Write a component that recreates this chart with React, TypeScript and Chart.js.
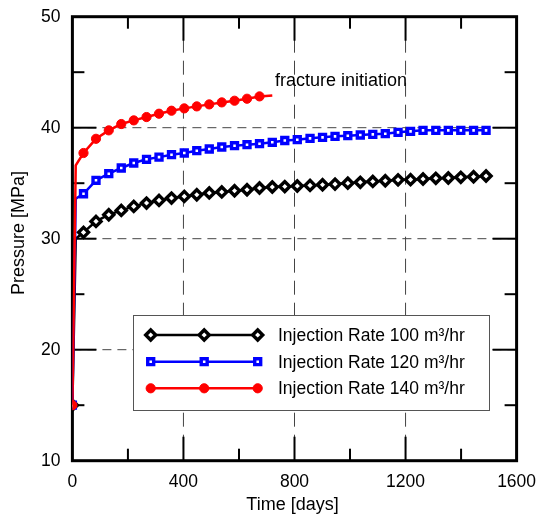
import React, { useEffect, useRef } from 'react';
import { Chart, registerables } from 'chart.js';
import { drawPoint } from 'chart.js/helpers';

Chart.register(...registerables);

// ---- data ----
const days = [0, 12, 40, 85, 131, 176, 221, 267, 312, 357, 403, 448, 493, 538, 584, 629, 674, 720, 765, 810, 856, 901, 946, 992, 1037, 1082, 1127, 1173, 1218, 1263, 1309, 1354, 1399, 1445, 1490];

const rate100 = [15, 30.0, 30.57, 31.56, 32.16, 32.55, 32.91, 33.21, 33.45, 33.66, 33.81, 33.96, 34.12, 34.21, 34.32, 34.41, 34.57, 34.66, 34.7, 34.75, 34.8, 34.86, 34.92, 35.0, 35.08, 35.16, 35.22, 35.3, 35.32, 35.38, 35.44, 35.47, 35.53, 35.58, 35.65];
const rate120 = [15, 33.6, 34.05, 35.26, 35.86, 36.37, 36.82, 37.15, 37.35, 37.57, 37.72, 37.93, 38.08, 38.26, 38.38, 38.47, 38.56, 38.68, 38.85, 38.92, 39.04, 39.13, 39.22, 39.28, 39.34, 39.4, 39.46, 39.58, 39.67, 39.76, 39.76, 39.76, 39.76, 39.76, 39.76];
const rate140 = [15, 36.6, 37.72, 39.0, 39.76, 40.33, 40.66, 40.96, 41.26, 41.53, 41.74, 41.92, 42.1, 42.28, 42.43, 42.61, 42.82, 42.9];

// indices drawn without a marker
const unmarked100 = [1];
const unmarked120 = [1];
const unmarked140 = [1, 17];

const seriesLabels = ['Injection Rate 100 m³/hr', 'Injection Rate 120 m³/hr', 'Injection Rate 140 m³/hr'];
const xTitle = 'Time [days]';
const yTitle = 'Pressure [MPa]';
const noteText = 'fracture initiation';

const xMajor = [400, 800, 1200];
const xMinor = [200, 600, 1000, 1400];
const yMajor = [20, 30, 40];
const yMinor = [15, 25, 35, 45];

const FONT = '"Liberation Sans", Arial, Helvetica, sans-serif';
const FS = 17.5;

const styles = [
  { color: '#000000', pointStyle: 'rectRot', radius: 5, borderWidth: 3.4, bg: '#ffffff' },
  { color: '#0000ff', pointStyle: 'rect', radius: 4.2, borderWidth: 3.4, bg: '#ffffff' },
  { color: '#ff0000', pointStyle: 'circle', radius: 4.6, borderWidth: 1, bg: '#ff0000' },
];

const toPts = (vals: number[]) => vals.map((v, i) => ({ x: days[i], y: v }));

const decor = {
  id: 'decor',
  beforeDatasetsDraw(chart: any) {
    const { ctx, chartArea: a, scales } = chart;
    const x = scales.x, y = scales.y;
    ctx.save();
    // dashed grid
    ctx.strokeStyle = '#444';
    ctx.lineWidth = 1;
    ctx.setLineDash([14, 8]);
    for (const v of xMajor) {
      const p = x.getPixelForValue(v);
      ctx.beginPath(); ctx.moveTo(p, a.top); ctx.lineTo(p, a.bottom); ctx.stroke();
    }
    ctx.setLineDash([9, 6]);
    for (const v of yMajor) {
      const p = y.getPixelForValue(v);
      ctx.beginPath(); ctx.moveTo(a.left, p); ctx.lineTo(a.right, p); ctx.stroke();
    }
    ctx.setLineDash([]);
    // inward ticks on all four sides
    ctx.strokeStyle = '#000';
    ctx.lineWidth = 2;
    const tx = (v: number, len: number) => {
      const p = x.getPixelForValue(v);
      ctx.beginPath(); ctx.moveTo(p, a.bottom); ctx.lineTo(p, a.bottom - len); ctx.stroke();
      ctx.beginPath(); ctx.moveTo(p, a.top); ctx.lineTo(p, a.top + len); ctx.stroke();
    };
    const ty = (v: number, len: number) => {
      const p = y.getPixelForValue(v);
      ctx.beginPath(); ctx.moveTo(a.left, p); ctx.lineTo(a.left + len, p); ctx.stroke();
      ctx.beginPath(); ctx.moveTo(a.right, p); ctx.lineTo(a.right - len, p); ctx.stroke();
    };
    xMajor.forEach((v) => tx(v, 24));
    xMinor.forEach((v) => tx(v, 12));
    yMajor.forEach((v) => ty(v, 24));
    yMinor.forEach((v) => ty(v, 12));
    // frame
    ctx.lineWidth = 3;
    ctx.strokeRect(a.left, a.top, a.right - a.left, a.bottom - a.top);
    ctx.restore();
  },
  afterDatasetsDraw(chart: any) {
    const { ctx, chartArea: a } = chart;
    ctx.save();
    // legend box
    const bx = 133.5, by = 315.5, bw = 356, bh = 95;
    ctx.fillStyle = '#fff';
    ctx.fillRect(bx, by, bw, bh);
    ctx.strokeStyle = '#555';
    ctx.lineWidth = 1;
    ctx.strokeRect(bx, by, bw, bh);
    const rows = [335, 361.7, 388.3];
    const mx = [150.7, 204.2, 257.7];
    ctx.font = `${FS}px ${FONT}`;
    ctx.textBaseline = 'middle';
    ctx.textAlign = 'left';
    seriesLabels.forEach((lab, i) => {
      const s = styles[i];
      const ry = rows[i];
      ctx.strokeStyle = s.color;
      ctx.lineWidth = 2.5;
      ctx.beginPath(); ctx.moveTo(mx[0], ry); ctx.lineTo(mx[2], ry); ctx.stroke();
      ctx.fillStyle = s.bg;
      ctx.strokeStyle = s.color;
      ctx.lineWidth = s.borderWidth;
      for (const px of mx) {
        drawPoint(ctx, { pointStyle: s.pointStyle, radius: s.radius, borderWidth: s.borderWidth, rotation: 0 } as any, px, ry);
      }
      ctx.fillStyle = '#000';
      ctx.fillText(lab, 278, ry + 1);
    });
    // annotation
    ctx.fillStyle = '#000';
    ctx.font = `${FS + 0.5}px ${FONT}`;
    ctx.textBaseline = 'alphabetic';
    ctx.fillText(noteText, 275, 85.5);
    // axis titles
    ctx.font = `${FS + 0.5}px ${FONT}`;
    ctx.textAlign = 'center';
    ctx.textBaseline = 'middle';
    ctx.fillText(xTitle, (a.left + a.right) / 2 - 2, 505);
    ctx.translate(19, 233);
    ctx.rotate(-Math.PI / 2);
    ctx.fillText(yTitle, 0, 0);
    ctx.restore();
  },
};

export default function App() {
  const ref = useRef<HTMLCanvasElement | null>(null);
  useEffect(() => {
    if (!ref.current) return;
    const mk = (vals: number[], i: number, skip: number[], label: string) => {
      const s = styles[i];
      return {
        label,
        data: toPts(vals),
        borderColor: s.color,
        borderWidth: 2.5,
        backgroundColor: s.bg,
        pointBackgroundColor: s.bg,
        pointBorderColor: s.color,
        pointBorderWidth: s.borderWidth,
        pointStyle: s.pointStyle,
        pointRadius: (c: any) => (skip.includes(c.dataIndex) ? 0 : s.radius),
        tension: 0,
        fill: false,
      };
    };
    const chart = new Chart(ref.current, {
      type: 'line',
      data: {
        datasets: [
          mk(rate140, 2, unmarked140, seriesLabels[2]),
          mk(rate120, 1, unmarked120, seriesLabels[1]),
          mk(rate100, 0, unmarked100, seriesLabels[0]),
        ] as any,
      },
      options: {
        animation: false,
        responsive: true,
        maintainAspectRatio: false,
        devicePixelRatio: 1,
        layout: { padding: { top: 16.7, right: 22.4, left: 0, bottom: 0 } },
        plugins: { legend: { display: false }, tooltip: { enabled: false } },
        scales: {
          x: {
            type: 'linear',
            min: 0,
            max: 1600,
            afterFit: (s: any) => { s.height = 56.3; s.paddingLeft = 0; s.paddingRight = 0; },
            grid: { display: false, drawTicks: false },
            border: { display: false },
            ticks: {
              stepSize: 400, padding: 11, color: '#000', font: { family: FONT, size: FS },
              maxRotation: 0, autoSkip: false, callback: (v: any) => String(v),
            },
          },
          y: {
            type: 'linear',
            min: 10,
            max: 50,
            afterFit: (s: any) => { s.width = 72.4; s.paddingTop = 0; s.paddingBottom = 0; },
            grid: { display: false, drawTicks: false },
            border: { display: false },
            ticks: { stepSize: 10, padding: 12, color: '#000', font: { family: FONT, size: FS }, callback: (v: any) => String(v) },
          },
        },
      } as any,
      plugins: [decor],
    });
    return () => chart.destroy();
  }, []);
  return (
    <div style={{ position: 'absolute', left: 0, top: 0, width: 539, height: 517, background: '#fff' }}>
      <canvas ref={ref} />
    </div>
  );
}
